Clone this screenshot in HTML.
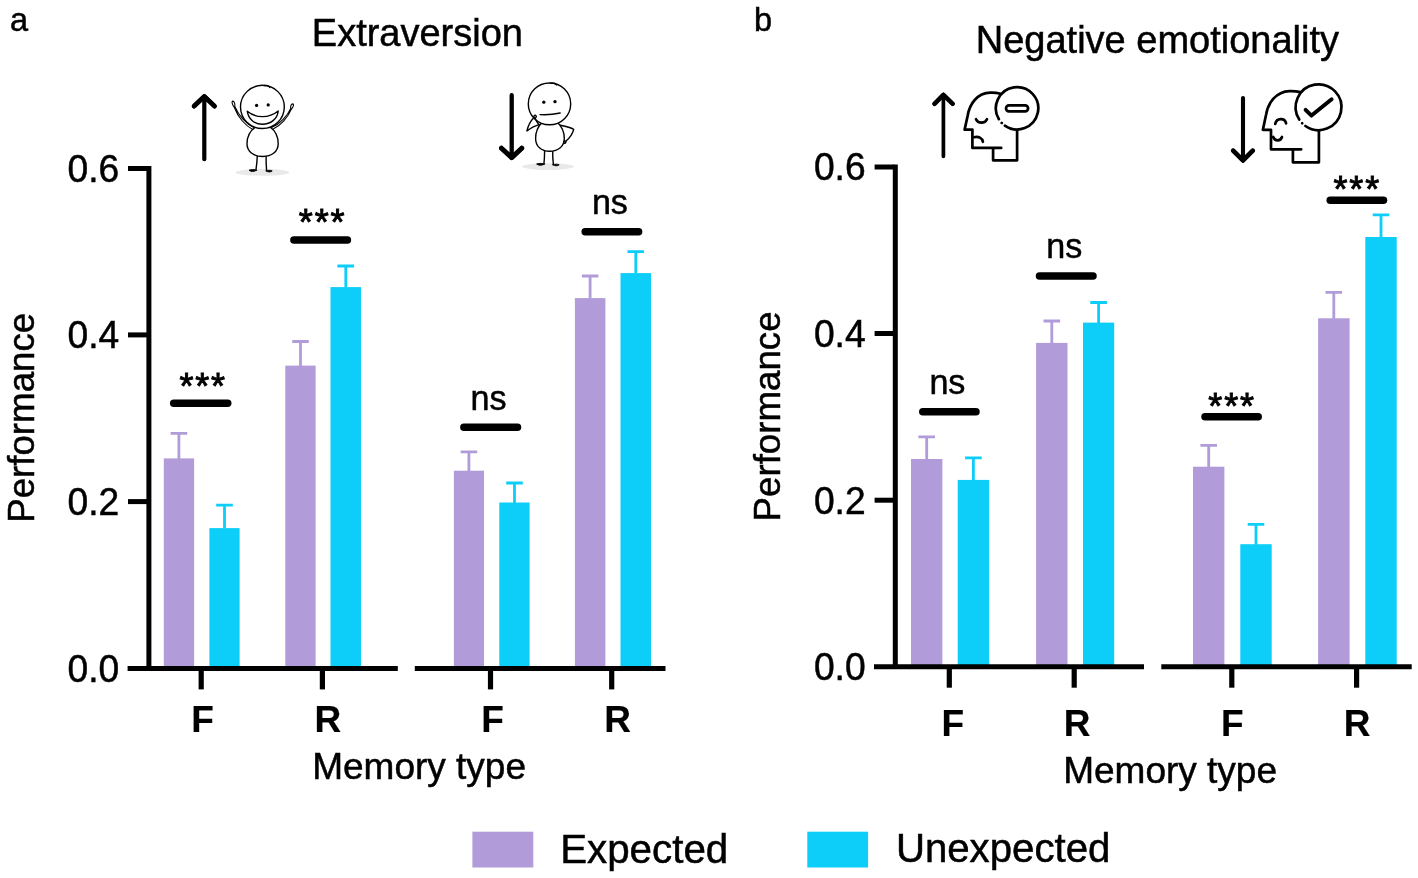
<!DOCTYPE html>
<html lang="en"><head><meta charset="utf-8"><title>Figure</title>
<style>
html,body{margin:0;padding:0;background:#fff;}
body{width:1418px;height:878px;overflow:hidden;}
svg{display:block;}
text{font-family:"Liberation Sans",Arial,Helvetica,sans-serif;fill:#000;stroke:#000;stroke-width:0.5px;}
.st{stroke-width:0.9px;}
.b{font-weight:bold;stroke-width:0.15px;}
</style></head><body>
<svg width="1418" height="878" viewBox="0 0 1418 878">
<rect width="1418" height="878" fill="#fff"/>

<g id="panelA">
<rect x="163.8" y="458.4" width="30.3" height="210.0" fill="#b19cd9"/><path d="M178.9 458.9V433.4M170.6 433.4H187.2" stroke="#b19cd9" stroke-width="2.8" fill="none"/>
<rect x="209.4" y="528.1" width="30.2" height="140.3" fill="#0dcdf9"/><path d="M224.5 528.6V505.1M216.2 505.1H232.8" stroke="#0dcdf9" stroke-width="2.8" fill="none"/>
<rect x="285.3" y="365.6" width="30.3" height="302.8" fill="#b19cd9"/><path d="M300.5 366.1V341.5M292.2 341.5H308.8" stroke="#b19cd9" stroke-width="2.8" fill="none"/>
<rect x="330.5" y="287.1" width="30.5" height="381.3" fill="#0dcdf9"/><path d="M345.8 287.6V266.0M337.4 266.0H354.1" stroke="#0dcdf9" stroke-width="2.8" fill="none"/>
<rect x="453.9" y="470.7" width="30.1" height="197.7" fill="#b19cd9"/><path d="M468.9 471.2V451.8M460.6 451.8H477.2" stroke="#b19cd9" stroke-width="2.8" fill="none"/>
<rect x="499.3" y="502.5" width="30.3" height="165.9" fill="#0dcdf9"/><path d="M514.5 503.0V483.0M506.2 483.0H522.8" stroke="#0dcdf9" stroke-width="2.8" fill="none"/>
<rect x="574.9" y="298.1" width="30.5" height="370.3" fill="#b19cd9"/><path d="M590.1 298.6V276.0M581.9 276.0H598.4" stroke="#b19cd9" stroke-width="2.8" fill="none"/>
<rect x="620.5" y="273.1" width="30.5" height="395.3" fill="#0dcdf9"/><path d="M635.8 273.6V251.6M627.5 251.6H644.0" stroke="#0dcdf9" stroke-width="2.8" fill="none"/>
<path d="M148.9 166V670.9M127.6 668.4H397.8M414.8 668.4H665.5" stroke="#000" stroke-width="5" fill="none"/>
<line x1="128" y1="168.5" x2="148" y2="168.5" stroke="#000" stroke-width="5"/>
<line x1="128" y1="334.9" x2="148" y2="334.9" stroke="#000" stroke-width="5"/>
<line x1="128" y1="501.6" x2="148" y2="501.6" stroke="#000" stroke-width="5"/>
<line x1="201.2" y1="668.4" x2="201.2" y2="689.4" stroke="#000" stroke-width="5.2"/>
<line x1="322.4" y1="668.4" x2="322.4" y2="689.4" stroke="#000" stroke-width="5.2"/>
<line x1="490.5" y1="668.4" x2="490.5" y2="689.4" stroke="#000" stroke-width="5.2"/>
<line x1="611.7" y1="668.4" x2="611.7" y2="689.4" stroke="#000" stroke-width="5.2"/>
<text transform="translate(119.2 181.8) scale(1 1.05)" font-size="37.2" text-anchor="end">0.6</text>
<text transform="translate(119.2 348.2) scale(1 1.05)" font-size="37.2" text-anchor="end">0.4</text>
<text transform="translate(119.2 514.9) scale(1 1.05)" font-size="37.2" text-anchor="end">0.2</text>
<text transform="translate(119.2 681.7) scale(1 1.05)" font-size="37.2" text-anchor="end">0.0</text>
<text class="b" x="202.5" y="732.3" font-size="37" text-anchor="middle">F</text>
<text class="b" x="327.9" y="732.3" font-size="37" text-anchor="middle">R</text>
<text class="b" x="492.5" y="732.3" font-size="37" text-anchor="middle">F</text>
<text class="b" x="617.5" y="732.3" font-size="37" text-anchor="middle">R</text>
<text x="419.1" y="779.2" font-size="37" text-anchor="middle">Memory type</text>
<text transform="translate(34.2 417.8) rotate(-90)" font-size="36.7" text-anchor="middle">Performance</text>
<text x="417.4" y="45.9" font-size="38" text-anchor="middle">Extraversion</text>
<text x="10" y="31" font-size="32.5">a</text>
<line x1="173.7" y1="403.3" x2="227.7" y2="403.3" stroke="#000" stroke-width="7.5" stroke-linecap="round"/><text class="st" x="186.4 202.2 218.1" y="398.6" font-size="36" text-anchor="middle">***</text>
<line x1="293.9" y1="240.1" x2="347.4" y2="240.1" stroke="#000" stroke-width="7.5" stroke-linecap="round"/><text class="st" x="305.8 321.7 337.6" y="235.3" font-size="36" text-anchor="middle">***</text>
<line x1="463.9" y1="427.3" x2="517.5" y2="427.3" stroke="#000" stroke-width="7.5" stroke-linecap="round"/><text transform="translate(488.6 409.8) scale(0.975 1.02)" font-size="35" text-anchor="middle">ns</text>
<line x1="585.2" y1="231.8" x2="638.6" y2="231.8" stroke="#000" stroke-width="7.5" stroke-linecap="round"/><text transform="translate(609.9 214.1) scale(0.975 1.02)" font-size="35" text-anchor="middle">ns</text>
</g>
<g id="panelB">
<rect x="911.0" y="459.0" width="31.4" height="207.7" fill="#b19cd9"/><path d="M926.7 459.5V436.9M918.4 436.9H935.0" stroke="#b19cd9" stroke-width="2.8" fill="none"/>
<rect x="957.7" y="479.9" width="31.4" height="186.8" fill="#0dcdf9"/><path d="M973.4 480.4V457.8M965.1 457.8H981.7" stroke="#0dcdf9" stroke-width="2.8" fill="none"/>
<rect x="1036.1" y="342.9" width="31.4" height="323.8" fill="#b19cd9"/><path d="M1051.8 343.4V321.0M1043.5 321.0H1060.1" stroke="#b19cd9" stroke-width="2.8" fill="none"/>
<rect x="1083.0" y="322.6" width="31.2" height="344.1" fill="#0dcdf9"/><path d="M1098.6 323.1V302.5M1090.3 302.5H1106.9" stroke="#0dcdf9" stroke-width="2.8" fill="none"/>
<rect x="1193.0" y="466.7" width="31.4" height="200.0" fill="#b19cd9"/><path d="M1208.7 467.2V445.4M1200.4 445.4H1217.0" stroke="#b19cd9" stroke-width="2.8" fill="none"/>
<rect x="1240.3" y="544.2" width="31.4" height="122.5" fill="#0dcdf9"/><path d="M1256.0 544.7V524.4M1247.7 524.4H1264.3" stroke="#0dcdf9" stroke-width="2.8" fill="none"/>
<rect x="1318.1" y="318.3" width="31.5" height="348.4" fill="#b19cd9"/><path d="M1333.8 318.8V292.3M1325.5 292.3H1342.1" stroke="#b19cd9" stroke-width="2.8" fill="none"/>
<rect x="1365.3" y="237.0" width="31.4" height="429.7" fill="#0dcdf9"/><path d="M1381.0 237.5V214.8M1372.7 214.8H1389.3" stroke="#0dcdf9" stroke-width="2.8" fill="none"/>
<path d="M895.3 164.5V669.2M874 666.7H1144M1161.3 666.7H1411.7" stroke="#000" stroke-width="5" fill="none"/>
<line x1="874.6" y1="167.0" x2="894" y2="167.0" stroke="#000" stroke-width="5"/>
<line x1="874.6" y1="333.5" x2="894" y2="333.5" stroke="#000" stroke-width="5"/>
<line x1="874.6" y1="500.2" x2="894" y2="500.2" stroke="#000" stroke-width="5"/>
<line x1="949.3" y1="666.7" x2="949.3" y2="687.7" stroke="#000" stroke-width="5.2"/>
<line x1="1074.2" y1="666.7" x2="1074.2" y2="687.7" stroke="#000" stroke-width="5.2"/>
<line x1="1231.8" y1="666.7" x2="1231.8" y2="687.7" stroke="#000" stroke-width="5.2"/>
<line x1="1356.6" y1="666.7" x2="1356.6" y2="687.7" stroke="#000" stroke-width="5.2"/>
<text transform="translate(865.6 180.3) scale(1 1.05)" font-size="37.2" text-anchor="end">0.6</text>
<text transform="translate(865.6 346.8) scale(1 1.05)" font-size="37.2" text-anchor="end">0.4</text>
<text transform="translate(865.6 513.5) scale(1 1.05)" font-size="37.2" text-anchor="end">0.2</text>
<text transform="translate(865.6 680.0) scale(1 1.05)" font-size="37.2" text-anchor="end">0.0</text>
<text class="b" x="952.8" y="735.8" font-size="37" text-anchor="middle">F</text>
<text class="b" x="1077.2" y="735.8" font-size="37" text-anchor="middle">R</text>
<text class="b" x="1232.4" y="735.8" font-size="37" text-anchor="middle">F</text>
<text class="b" x="1357" y="735.8" font-size="37" text-anchor="middle">R</text>
<text x="1170.1" y="782.5" font-size="37" text-anchor="middle">Memory type</text>
<text transform="translate(780.2 416.4) rotate(-90)" font-size="36.7" text-anchor="middle">Performance</text>
<text x="1157.4" y="52.7" font-size="38" text-anchor="middle">Negative emotionality</text>
<text x="754" y="30.5" font-size="32.5">b</text>
<line x1="922.8" y1="411.8" x2="976.0" y2="411.8" stroke="#000" stroke-width="7.5" stroke-linecap="round"/><text transform="translate(947.4 393.8) scale(0.975 1.02)" font-size="35" text-anchor="middle">ns</text>
<line x1="1039.5" y1="276.0" x2="1093.0" y2="276.0" stroke="#000" stroke-width="7.5" stroke-linecap="round"/><text transform="translate(1064.2 258.4) scale(0.975 1.02)" font-size="35" text-anchor="middle">ns</text>
<line x1="1205.0" y1="416.8" x2="1258.2" y2="416.8" stroke="#000" stroke-width="7.5" stroke-linecap="round"/><text class="st" x="1215.3 1231.2 1247.1" y="418.5" font-size="36" text-anchor="middle">***</text>
<line x1="1330.2" y1="200.3" x2="1383.5" y2="200.3" stroke="#000" stroke-width="7.5" stroke-linecap="round"/><text class="st" x="1340.5 1356.3 1372.2" y="201.8" font-size="36" text-anchor="middle">***</text>
</g>
<rect x="472.4" y="831.7" width="60.9" height="35.8" fill="#b19cd9"/>
<text x="560.2" y="862.6" font-size="40.3">Expected</text>
<rect x="807.3" y="831.7" width="60.8" height="35.8" fill="#0dcdf9"/>
<text x="895.9" y="862.4" font-size="40.2">Unexpected</text>
<g id="icons" fill="none" stroke="#000" stroke-linecap="round" stroke-linejoin="round">
<path d="M204.3 159.2V96.3M193.9 106.2L204.3 96.3L214.7 106.2" stroke-width="4.2"/>
<path d="M204.3 96.6L194.2 106.1M204.3 96.6L214.4 106.1" stroke-width="4.8"/>
<path d="M511.7 95.2V157.8M501.2 148.1L511.7 157.8L522 148.1" stroke-width="4.3"/>
<path d="M511.7 157.6L501.5 148.2M511.7 157.6L521.7 148.2" stroke-width="4.9"/>
<path d="M943.4 156.3V94.6M934.3 103.9L943.4 94.6L952.9 103.9" stroke-width="3.7"/>
<path d="M943.4 94.9L934.5 103.8M943.4 94.9L952.7 103.8" stroke-width="4.5"/>
<path d="M1243 98.1V160.6M1233 150.6L1243 160.6L1252.9 150.6" stroke-width="4.1"/>
<path d="M1243 160.4L1233.2 150.7M1243 160.4L1252.7 150.7" stroke-width="4.7"/>
<ellipse cx="262.4" cy="172.4" rx="27" ry="3.3" fill="#e9e9e9" stroke="none"/>
<g stroke-width="1.4">
<path d="M257.3 155.5C257.1 161 256.7 165.5 255.9 170.2M266.1 155.5C266 161 266.2 166 266.6 170.8"/>
<path d="M256.4 170.2C254.6 171.9 250.8 171.9 249 170.2C250.8 169.4 254.2 169.3 256.4 170.2Z" fill="#000" stroke-width="0.9"/>
<path d="M266.2 170.9C268 172.4 270.6 172.3 272.2 170.9C270.6 170.1 268 170 266.2 170.9Z" fill="#000" stroke-width="0.9"/>
<path d="M255.5 127C250.5 130.5 247 136.5 247 143.8C247 151.6 253.6 156.5 262.7 156.5C271.8 156.5 278.2 151.6 278.2 143.8C278.2 136.5 275 130.5 270 127" fill="#fff"/>
<path d="M252.8 129.4C245.6 126 237.8 117 234.4 107.5C232.2 104.5 231.4 101.4 232.7 101.1C234.3 101 235.2 104 234.8 106.4C238.6 115.5 246.4 124.2 254.2 127.8" stroke-width="1.1"/>
<path d="M272.8 129.2C280.7 125.5 288.2 117 291.1 109.6C293.7 106.6 294.1 104.2 292.7 103.9C291.3 103.9 290.3 106.2 290.7 108.4C287.6 115.6 280 123.8 271.6 127.6" stroke-width="1.1"/>
<ellipse cx="262.4" cy="106.9" rx="21.9" ry="21.6" fill="#fff"/>
<path d="M264.5 85.5C266.8 85.1 269.2 85.9 269.8 87.5"/>
<path d="M247.3 111.2C256 118.5 269 118.5 278.2 111C277.5 119 270.5 124.3 262.5 124.3C254.5 124.3 248.3 119.2 247.3 111.2Z" fill="#fff"/>
<circle cx="256.6" cy="105.4" r="1.65" fill="#000" stroke="none"/>
<circle cx="268.2" cy="104.9" r="1.65" fill="#000" stroke="none"/>
</g>
<ellipse cx="548" cy="166.6" rx="26" ry="3.3" fill="#e9e9e9" stroke="none"/>
<g stroke-width="1.4">
<path d="M544.6 150.5C544.6 155.5 544.4 159.8 543.9 164M552.7 150.5C552.6 155.5 552.9 160.3 553.4 164.7"/>
<path d="M544.4 164C542.4 165.7 538.4 165.6 536.6 164C538.6 163.2 542.2 163.1 544.4 164Z" fill="#000" stroke-width="0.9"/>
<path d="M553 164.8C554.8 166.2 557.6 166.1 559.2 164.8C557.6 164 554.8 163.9 553 164.8Z" fill="#000" stroke-width="0.9"/>
<path d="M542 122.5C538 126.5 535.6 132 535.6 138.4C535.6 146.2 541.2 151.3 549.6 151.3C558.4 151.3 564.3 146.2 564.3 138.4C564.3 132 561.8 126.5 557.6 122.5" fill="#fff"/>
<path d="M560.4 125.3C565.4 126.3 570.6 127.5 573.7 129.3C572.5 134 569.2 138.4 565.8 141.2C564.4 140.6 563.2 141.6 563.8 142.8C564.6 143.8 566.2 143 566 141.4"/>
<ellipse cx="549.5" cy="103.9" rx="21.2" ry="20.9" fill="#fff"/>
<path d="M550.5 83.1C553 82.7 555.8 83.4 556.6 84.9"/>
<path d="M539.4 124.6C534.6 125.7 530.2 128.4 526.9 130.9C528.2 125.6 531 120.6 534 117.6C533.4 116 534.6 114.9 535.6 115.3C536.8 116 536.4 117.8 534.8 118C536 120.5 537.4 122.8 538.6 124.2"/>
<path d="M540 114.6C546.5 115 554 114.4 560.2 113"/>
<circle cx="543.8" cy="102.2" r="1.65" fill="#000" stroke="none"/>
<circle cx="555" cy="101.7" r="1.65" fill="#000" stroke="none"/>
</g>
<g stroke-width="2.7">
<path d="M1000.4 93.7C997.4 92.9 994 92.6 990.5 92.7C977 93.1 969.5 104 967.6 116L964.6 129.6H972.4V147.9H1001.2M993.1 147.9V160.3H1017.1V130.6"/>
<path d="M998.89 119.20A21.2 21.2 0 1 1 1004.90 125.65M1001.73 122.93l0.01 0.01"/>
<rect x="1006.0" y="105.4" width="22.1" height="5.9" rx="2.95"/>
<path d="M976 119.2C978 123.8 985 123.8 987 119.2"/>
<path d="M974 137.2C978.5 136 982.3 138 982.9 141.8"/>
</g>
<g stroke-width="2.7">
<path d="M1300.4 92.1C1297 91.3 1293 91 1289.5 91.1C1276 91.5 1268 103 1266 115L1262.9 129.8H1271V149.3H1301.2M1292.9 149.3V162.3H1318.9V130.8"/>
<path d="M1299.24 119.55A22.9 22.9 0 1 1 1305.42 126.01M1302.16 123.24l0.01 0.01"/>
<path d="M1305.6 109.8L1311.5 115.6L1331.6 99.2" stroke-width="3.9"/>
<path d="M1275.2 124C1276.5 117.7 1284.8 117.5 1286.1 123.4"/>
<path d="M1273.2 137C1274.8 141.4 1280.6 141.4 1282 137"/>
</g>
</g>
</svg></body></html>
